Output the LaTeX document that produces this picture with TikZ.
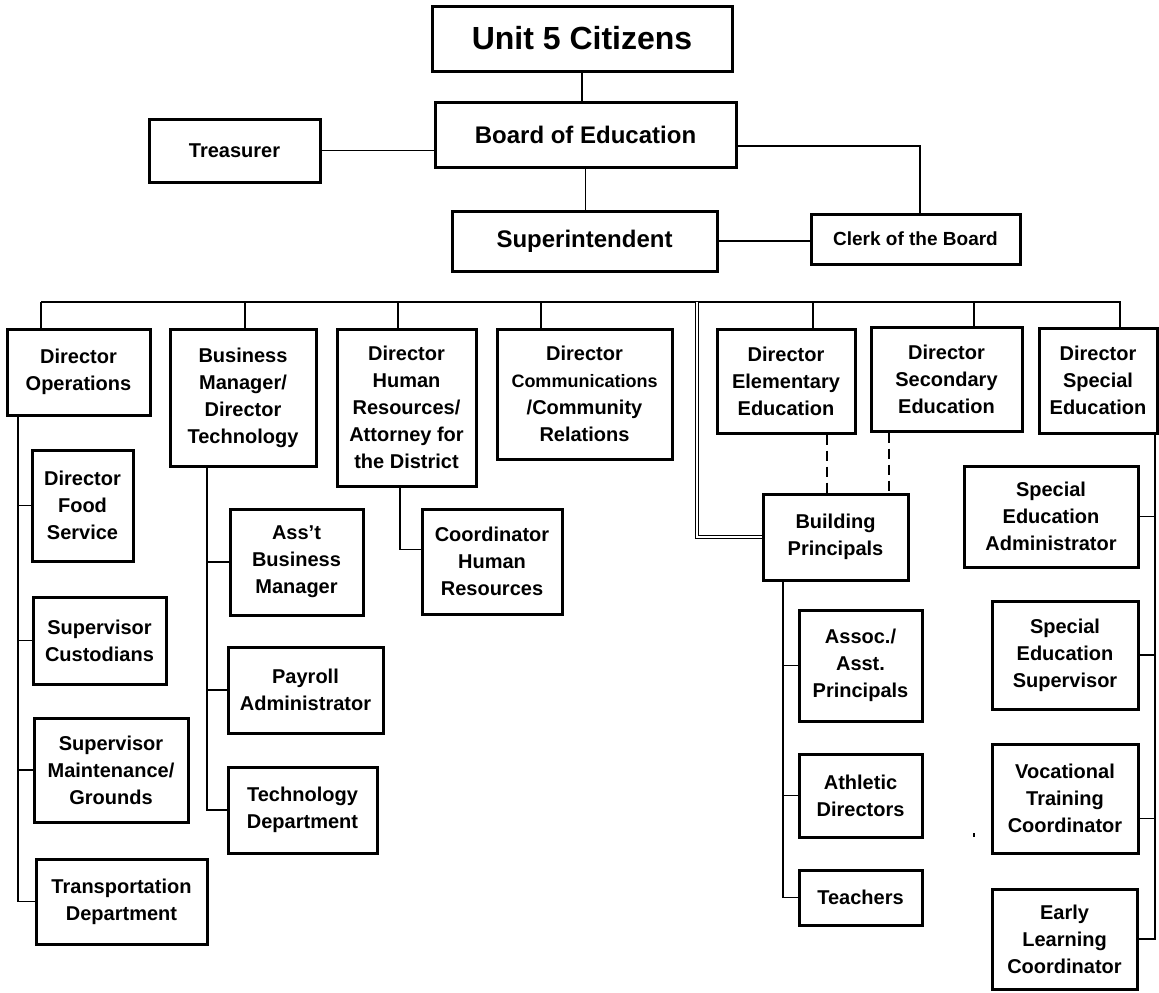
\documentclass[tikz,border=0pt]{standalone}
\usepackage{fontspec}
\setmainfont{Liberation Sans}
\begin{document}
\begin{tikzpicture}[x=0.5pt,y=-0.5pt,
  box/.style={draw,line width=1.5pt,align=center,inner sep=1pt,font=\bfseries\fontsize{10}{13.5}\selectfont},
  link/.style={line width=0.6pt},
  buslink/.style={line width=1.1pt},
  dbl/.style={double,line width=0.45pt,double distance=0.8pt}]
  \useasboundingbox (0,0) rectangle (1159,992);
  \node[box,minimum width=150pt,minimum height=32.5pt,font=\bfseries\fontsize{16}{18}\selectfont] (cit) at (582,38.5) {Unit 5 Citizens};
  \node[box,minimum width=150.5pt,minimum height=32.5pt,font=\bfseries\fontsize{12}{14}\selectfont] (boe) at (585.5,134.5) {Board of Education};
  \node[box,minimum width=85.5pt,minimum height=31.5pt] (tre) at (234.5,150.5) {Treasurer};
  \node[box,minimum width=132.5pt,minimum height=30pt,font=\bfseries\fontsize{12}{14}\selectfont] (sup) at (584.5,241) {Superintendent};
  \node[box,minimum width=104.5pt,minimum height=25pt,font=\bfseries\fontsize{9.5}{11}\selectfont] (clk) at (915.5,239) {Clerk of the Board};
  \draw[link] (cit.south) -- (cit.south |- boe.north);
  \draw[link] (tre.east) -- (tre.east -| boe.west);
  \coordinate (bck) at (920,146);
  \draw[link] (boe.east |- bck) -- (bck) -- (bck |- clk.north);
  \draw[link] (boe.south) -- (boe.south |- sup.north);
  \draw[buslink] (sup.east) -- (sup.east -| clk.west);
  \node[box,minimum width=71.5pt,minimum height=43pt] (ops) at (78.5,372) {Director\\Operations};
  \node[box,minimum width=73pt,minimum height=68.5pt] (bmg) at (243,397.5) {Business\\Manager/\\Director\\Technology};
  \node[box,minimum width=69.5pt,minimum height=78.5pt] (hrd) at (406.5,407.5) {Director\\Human\\Resources/\\Attorney for\\the District};
  \node[box,minimum width=87.5pt,minimum height=65pt] (com) at (584.5,394) {Director\\{\fontsize{9}{13.5}\selectfont Communications}\\/Community\\Relations};
  \node[box,minimum width=69pt,minimum height=52pt] (ele) at (786,381) {Director\\Elementary\\Education};
  \node[box,minimum width=75.5pt,minimum height=52pt] (sec) at (946.5,379) {Director\\Secondary\\Education};
  \node[box,minimum width=59pt,minimum height=52.5pt] (spe) at (1098,380.5) {Director\\Special\\Education};
  \coordinate (busl) at (41,302);
  \coordinate (busr) at (1121,302);
  \draw[buslink] (busl) -- (busr);
  \foreach \n/\x in {ops/41,bmg/245,hrd/398,com/541,ele/813,sec/974,spe/1120}
    \draw[link] (\x,302) -- (\x,302 |- \n.north);
  \node[box,minimum width=50.5pt,minimum height=55.5pt] (fds) at (82.5,505.5) {Director\\Food\\Service};
  \node[box,minimum width=66.5pt,minimum height=43.5pt] (cus) at (99.5,640.5) {Supervisor\\Custodians};
  \node[box,minimum width=77pt,minimum height=52pt] (mnt) at (111,770) {Supervisor\\Maintenance/\\Grounds};
  \node[box,minimum width=85.5pt,minimum height=42.5pt] (trn) at (121.5,901.5) {Transportation\\Department};
  \coordinate (opsk) at (18,415);
  \draw[link] (opsk) |- (trn.west);
  \foreach \n in {fds,cus,mnt}
    \draw[link] (opsk |- \n.west) -- (\n.west);
  \node[box,minimum width=66.5pt,minimum height=53pt] (ast) at (296.5,562) {Ass’t\\Business\\Manager};
  \node[box,minimum width=77.5pt,minimum height=43pt] (pay) at (305.5,690) {Payroll\\Administrator};
  \node[box,minimum width=74.5pt,minimum height=43pt] (tec) at (302.5,810) {Technology\\Department};
  \coordinate (bmgk) at (207,466);
  \draw[link] (bmgk) |- (tec.west);
  \foreach \n in {ast,pay}
    \draw[link] (bmgk |- \n.west) -- (\n.west);
  \node[box,minimum width=70pt,minimum height=52.5pt] (crd) at (492,561.5) {Coordinator\\Human\\Resources};
  \coordinate (hrdk) at (400,486);
  \draw[link] (hrdk) |- ([yshift=6pt]crd.west);
  \node[box,minimum width=72.5pt,minimum height=43pt] (bpr) at (835.5,537) {Building\\Principals};
  \draw[dbl] (697,302) |- (bpr.west);
  \draw[link,dash pattern=on 5pt off 3pt] (827,0 |- ele.south) -- (827,0 |- bpr.north);
  \draw[link,dash pattern=on 5pt off 3pt] (889,0 |- sec.south) -- (889,0 |- bpr.north);
  \node[box,minimum width=61.5pt,minimum height=55.5pt] (aap) at (860.5,665.5) {Assoc./\\Asst.\\Principals};
  \node[box,minimum width=61.5pt,minimum height=41.5pt] (ath) at (860.5,795.5) {Athletic\\Directors};
  \node[box,minimum width=61.5pt,minimum height=27.5pt] (tea) at (860.5,897.5) {Teachers};
  \coordinate (bprk) at (783,580);
  \draw[link] (bprk) |- (tea.west);
  \foreach \n in {aap,ath}
    \draw[link] (bprk |- \n.west) -- (\n.west);
  \node[box,minimum width=87pt,minimum height=50.5pt] (sea) at (1051,516.5) {Special\\Education\\Administrator};
  \node[box,minimum width=73pt,minimum height=54pt] (ses) at (1065,655) {Special\\Education\\Supervisor};
  \node[box,minimum width=73pt,minimum height=54.5pt] (voc) at (1065,798.5) {Vocational\\Training\\Coordinator};
  \node[box,minimum width=72.5pt,minimum height=50pt] (elc) at (1064.5,939) {Early\\Learning\\Coordinator};
  \coordinate (spek) at (1155,433);
  \draw[link] (spek) |- (elc.east);
  \foreach \n in {sea,ses}
    \draw[link] (spek |- \n.east) -- (\n.east);
  \draw[link] ([yshift=-10pt]voc.east) -- ([yshift=-10pt]voc.east -| spek);
  \draw[link] (974,833) -- (974,837);
\end{tikzpicture}
\end{document}
